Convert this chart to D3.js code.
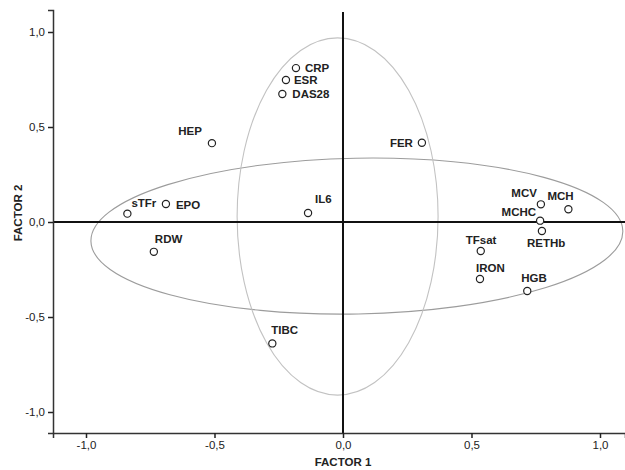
<!DOCTYPE html>
<html><head><meta charset="utf-8">
<script src="https://cdn.jsdelivr.net/npm/d3@7"></script>
<style>
html,body{margin:0;padding:0;background:#fff;}
svg{display:block;font-family:"Liberation Sans",Arial,sans-serif;}
</style></head>
<body>
<svg id="chart" width="625" height="470"></svg>
<script>
// ---- data ----
const variables = ["CRP","ESR","DAS28","HEP","FER","IL6","sTFr","EPO","RDW","MCV","MCH","MCHC","RETHb","TFsat","IRON","HGB","TIBC"];
const factor1   = [-0.183,-0.222,-0.236,-0.510,0.307,-0.136,-0.839,-0.689,-0.736,0.770,0.877,0.767,0.774,0.536,0.533,0.717,-0.275];
const factor2   = [0.810,0.747,0.674,0.415,0.417,0.047,0.044,0.095,-0.157,0.093,0.067,0.007,-0.047,-0.153,-0.300,-0.363,-0.639];
const xTicks = [-1.0,-0.5,0.0,0.5,1.0];
const yTicks = [-1.0,-0.5,0.0,0.5,1.0];
// ellipses: [cx, cy, rx, ry, rotationDeg] in factor units
const ellipseCx = [0.054,-0.021];
const ellipseCy = [-0.074,0.029];
const ellipseRx = [1.035,0.391];
const ellipseRy = [0.410,0.940];
const ellipseRot = [-1.1,0];
const ellipseColor = ["#9c9c9c","#c2c2c2"];

// ---- label layout (offsets in px from point) ----
const labelLayout = {
  CRP:[9,4,"start"], ESR:[8,4,"start"], DAS28:[10,4,"start"], HEP:[-10,-8,"end"],
  FER:[-9,4,"end"], IL6:[7,-10,"start"], sTFr:[4,-7,"start"], EPO:[10,5,"start"],
  RDW:[1,-9,"start"], MCV:[-4,-7,"end"], MCH:[-21,-9,"start"], MCHC:[-4,-5,"end"],
  RETHb:[-15,16,"start"], TFsat:[-15,-7,"start"], IRON:[-4,-7,"start"], HGB:[-6,-9,"start"],
  TIBC:[-1,-9,"start"]
};

const svg = d3.select("#chart");
const x = d3.scaleLinear().domain([-1.1284,1.0973]).range([53,625]);
const y = d3.scaleLinear().domain([-1.1105,1.1158]).range([433,10]);
const fmt = d => d3.format(".1f")(d).replace(".", ",").replace("−","-");

// ellipses
const ell = svg.append("g");
ellipseCx.forEach((cx,i)=>{
  ell.append("ellipse")
    .attr("cx", x(cx)).attr("cy", y(ellipseCy[i]))
    .attr("rx", x(ellipseRx[i]) - x(0)).attr("ry", y(0) - y(ellipseRy[i]))
    .attr("transform", `rotate(${ellipseRot[i]},${x(cx)},${y(ellipseCy[i])})`)
    .attr("fill","none").attr("stroke",ellipseColor[i]).attr("stroke-width",1.1);
});

// zero lines
svg.append("line").attr("x1",x.range()[0]).attr("x2",x.range()[1]).attr("y1",y(0)).attr("y2",y(0))
  .attr("stroke","#111").attr("stroke-width",2);
svg.append("line").attr("x1",x(0)).attr("x2",x(0)).attr("y1",y.range()[1]+2).attr("y2",y.range()[0])
  .attr("stroke","#111").attr("stroke-width",2);

// axes
const xAxis = svg.append("g").attr("transform",`translate(0,${433})`)
  .call(d3.axisBottom(x).tickValues(xTicks).tickFormat(fmt).tickSizeOuter(0).tickSize(5).tickPadding(3));
const yAxis = svg.append("g").attr("transform",`translate(${53},0)`)
  .call(d3.axisLeft(y).tickValues(yTicks).tickFormat(fmt).tickSizeOuter(0).tickSize(5).tickPadding(3));
[xAxis,yAxis].forEach(a=>{
  a.select(".domain").attr("stroke","#333").attr("stroke-width",1.5);
  a.selectAll(".tick line").attr("stroke","#222").attr("stroke-width",1.5);
  a.selectAll(".tick text").attr("fill","#222").style("font-size","11.5px")
   .style("font-family","'Liberation Sans',Arial,sans-serif");
});

// axis titles
svg.append("text").attr("x",343).attr("y",466).attr("text-anchor","middle")
  .style("font-size","11.5px").style("font-weight","bold").attr("fill","#222").text("FACTOR 1");
svg.append("text").attr("transform","translate(22,213) rotate(-90)").attr("text-anchor","middle")
  .style("font-size","11.5px").style("font-weight","bold").attr("fill","#222").text("FACTOR 2");

// points
const pts = variables.map((v,i)=>({name:v, f1:factor1[i], f2:factor2[i]}));
const g = svg.append("g");
g.selectAll("circle").data(pts).join("circle")
  .attr("cx",d=>x(d.f1)).attr("cy",d=>y(d.f2)).attr("r",3.6)
  .attr("fill","#fff").attr("stroke","#222").attr("stroke-width",1.2);
g.selectAll("text").data(pts).join("text")
  .attr("x",d=>x(d.f1)+labelLayout[d.name][0])
  .attr("y",d=>y(d.f2)+labelLayout[d.name][1])
  .attr("text-anchor",d=>labelLayout[d.name][2])
  .style("font-size","11.5px").style("font-weight","bold").attr("fill","#222")
  .text(d=>d.name);
</script>
</body></html>
